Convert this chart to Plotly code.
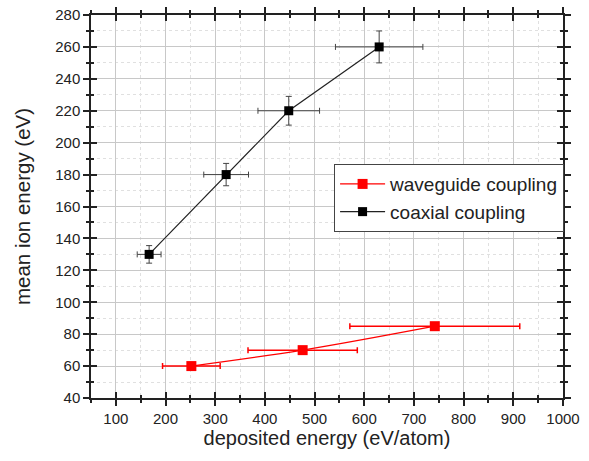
import plotly.graph_objects as go

# coaxial coupling
coax_x = [167, 322, 448, 630]
coax_y = [130, 180, 220, 260]
coax_xerr = [24, 45, 62, 88]
coax_yerr = [5.5, 7, 9, 10]

# waveguide coupling
wg_x = [252, 476, 742]
wg_y = [60, 70, 85]
wg_xerr = [58, 110, 171]
wg_yerr = [1, 1, 2]

fig = go.Figure()

fig.add_trace(go.Scatter(
    x=wg_x, y=wg_y, mode='lines+markers', name='waveguide coupling',
    line=dict(color='red', width=1.2, shape='spline'),
    marker=dict(symbol='square', size=10, color='red'),
    error_x=dict(type='data', array=wg_xerr, color='red', thickness=1.5, width=3),
    error_y=dict(type='data', array=wg_yerr, color='red', thickness=1.5, width=3),
))
fig.add_trace(go.Scatter(
    x=coax_x, y=coax_y, mode='lines+markers', name='coaxial coupling',
    line=dict(color='#222', width=1.2),
    marker=dict(symbol='square', size=9, color='black'),
    error_x=dict(type='data', array=coax_xerr, color='#444', thickness=1, width=3),
    error_y=dict(type='data', array=coax_yerr, color='#444', thickness=1, width=3),
))
# invisible trace to carry the overlay axes (inner half of the crossing ticks)
fig.add_trace(go.Scatter(x=[None], y=[None], xaxis='x2', yaxis='y2', showlegend=False))

tick_font = dict(family='Liberation Sans, Arial', size=15, color='#222')
common_x = dict(range=[50, 1000], dtick=100, tick0=0, linecolor='#222', linewidth=1.5,
                mirror='ticks', ticklen=6, tickwidth=1.5, tickcolor='#222', automargin=False)
common_y = dict(range=[40, 280], dtick=20, tick0=0, linecolor='#222', linewidth=1.5,
                mirror='ticks', ticklen=6, tickwidth=1.5, tickcolor='#222', automargin=False)

fig.update_layout(
    width=589, height=461,
    margin=dict(l=91, r=26, t=15, b=63),
    plot_bgcolor='white', paper_bgcolor='white',
    font=dict(family='Liberation Sans, Arial', color='#222'),
    xaxis=dict(**common_x, ticks='outside', showgrid=True, gridcolor='#c8c8c8', gridwidth=1,
               zeroline=False, tickfont=tick_font, ticklabeloverflow='allow',
               title=dict(text='deposited energy (eV/atom)', font=dict(size=20), standoff=5),
               minor=dict(dtick=50, ticks='outside', ticklen=3, tickcolor='#222',
                          showgrid=True, gridcolor='#e0e0e0', griddash='dot')),
    yaxis=dict(**common_y, ticks='outside', showgrid=True, gridcolor='#c8c8c8', gridwidth=1,
               zeroline=False, tickfont=tick_font, ticklabeloverflow='allow',
               title=dict(text='mean ion energy (eV)', font=dict(size=20.5), standoff=19),
               minor=dict(dtick=10, ticks='outside', ticklen=3, tickcolor='#222',
                          showgrid=True, gridcolor='#e0e0e0', griddash='dot')),
    xaxis2=dict(**common_x, overlaying='x', side='bottom', ticks='inside', showgrid=False,
                showticklabels=False, zeroline=False,
                minor=dict(dtick=50, ticks='inside', ticklen=3, tickcolor='#222')),
    yaxis2=dict(**common_y, overlaying='y', side='left', ticks='inside', showgrid=False,
                showticklabels=False, zeroline=False,
                minor=dict(dtick=10, ticks='inside', ticklen=3, tickcolor='#222')),
    legend=dict(x=0.515, y=0.522, xanchor='left', yanchor='middle', itemwidth=45,
                bgcolor='white', bordercolor='#444', borderwidth=1,
                font=dict(size=19, color='#222'), tracegroupgap=0),
    showlegend=True,
)

# drop the page's default body margin so the figure sits at the window's corner
fig.write_html("out.html", config={'displayModeBar': False},
               post_script="document.body.style.margin='0';")
